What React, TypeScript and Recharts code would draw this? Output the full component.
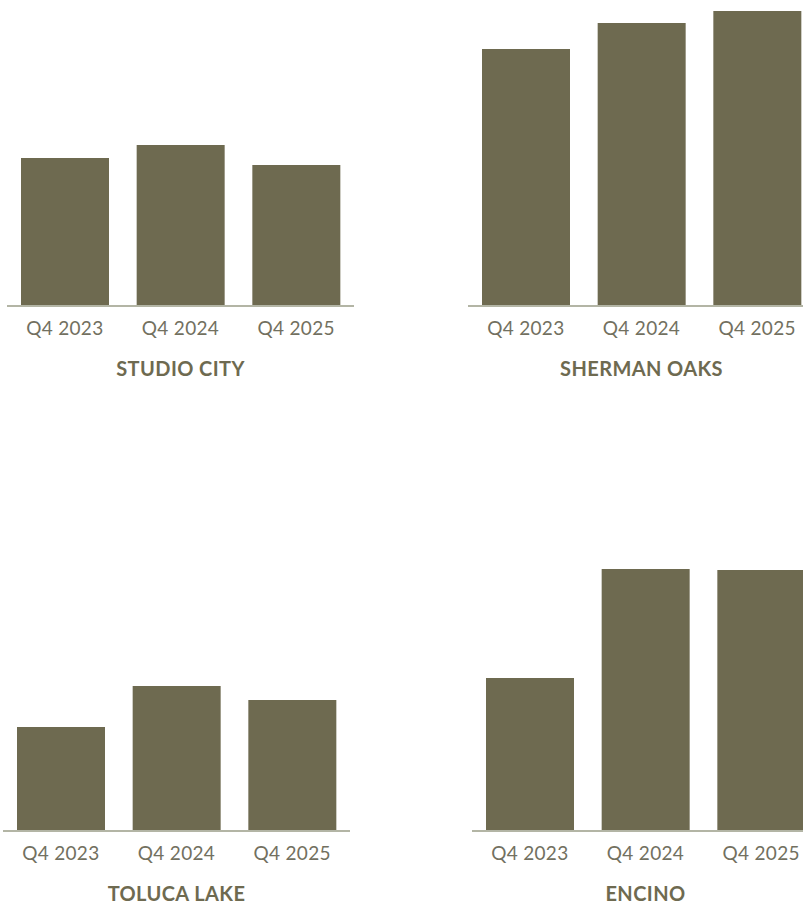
import React from 'react';
import { BarChart, Bar, XAxis, YAxis } from 'recharts';

const quarters = ['Q4 2023', 'Q4 2024', 'Q4 2025'];
const studioCity = [148, 161, 141];
const shermanOaks = [257, 283, 295];
const tolucaLake = [104, 145, 131];
const encino = [153, 262, 261];
const titles = ['STUDIO CITY', 'SHERMAN OAKS', 'TOLUCA LAKE', 'ENCINO'];

const BAR = '#6e6a50';
const AXIS = '#b3b5a5';
const TICK = '#727060';
const FONT = 'Lato, "Open Sans", sans-serif';

const build = (vals: number[]) => quarters.map((q, i) => ({ q, v: vals[i] }));

const panels = [
  { vals: studioCity, title: titles[0], left: 7, top: 6 },
  { vals: shermanOaks, title: titles[1], left: 468, top: 6 },
  { vals: tolucaLake, title: titles[2], left: 3, top: 531 },
  { vals: encino, title: titles[3], left: 472, top: 531 },
];

const W = 347;
const PLOT_H = 300;
const AXIS_H = 50;

function Panel({ vals, title, left, top }: { vals: number[]; title: string; left: number; top: number }) {
  return (
    <div style={{ position: 'absolute', left, top, width: W, height: PLOT_H + AXIS_H + 40 }}>
      <BarChart
        width={W}
        height={PLOT_H + AXIS_H}
        data={build(vals)}
        margin={{ top: 0, right: 0, bottom: 0, left: 0 }}
        barCategoryGap="12%"
      >
        <YAxis hide domain={[0, 300]} />
        <XAxis
          dataKey="q"
          height={AXIS_H}
          tickLine={false}
          axisLine={{ stroke: AXIS, strokeWidth: 2 }}
          tickMargin={10}
          interval={0}
          tick={{ fill: TICK, fontSize: 19, fontFamily: FONT, fontWeight: 400, letterSpacing: 0.3 }}
        />
        <Bar dataKey="v" fill={BAR} barSize={88} isAnimationActive={false} />
      </BarChart>
      <div
        style={{
          position: 'absolute',
          left: 0,
          width: W,
          top: PLOT_H + 50,
          textAlign: 'center',
          fontFamily: FONT,
          fontWeight: 700,
          fontSize: 20,
          letterSpacing: 0.4,
          color: BAR,
          lineHeight: '24px',
        }}
      >
        {title}
      </div>
    </div>
  );
}

export default function App() {
  return (
    <div style={{ position: 'absolute', left: 0, top: 0, width: 803, height: 905, overflow: 'hidden', background: '#fff' }}>
      {panels.map((p) => (
        <Panel key={p.title} {...p} />
      ))}
    </div>
  );
}
